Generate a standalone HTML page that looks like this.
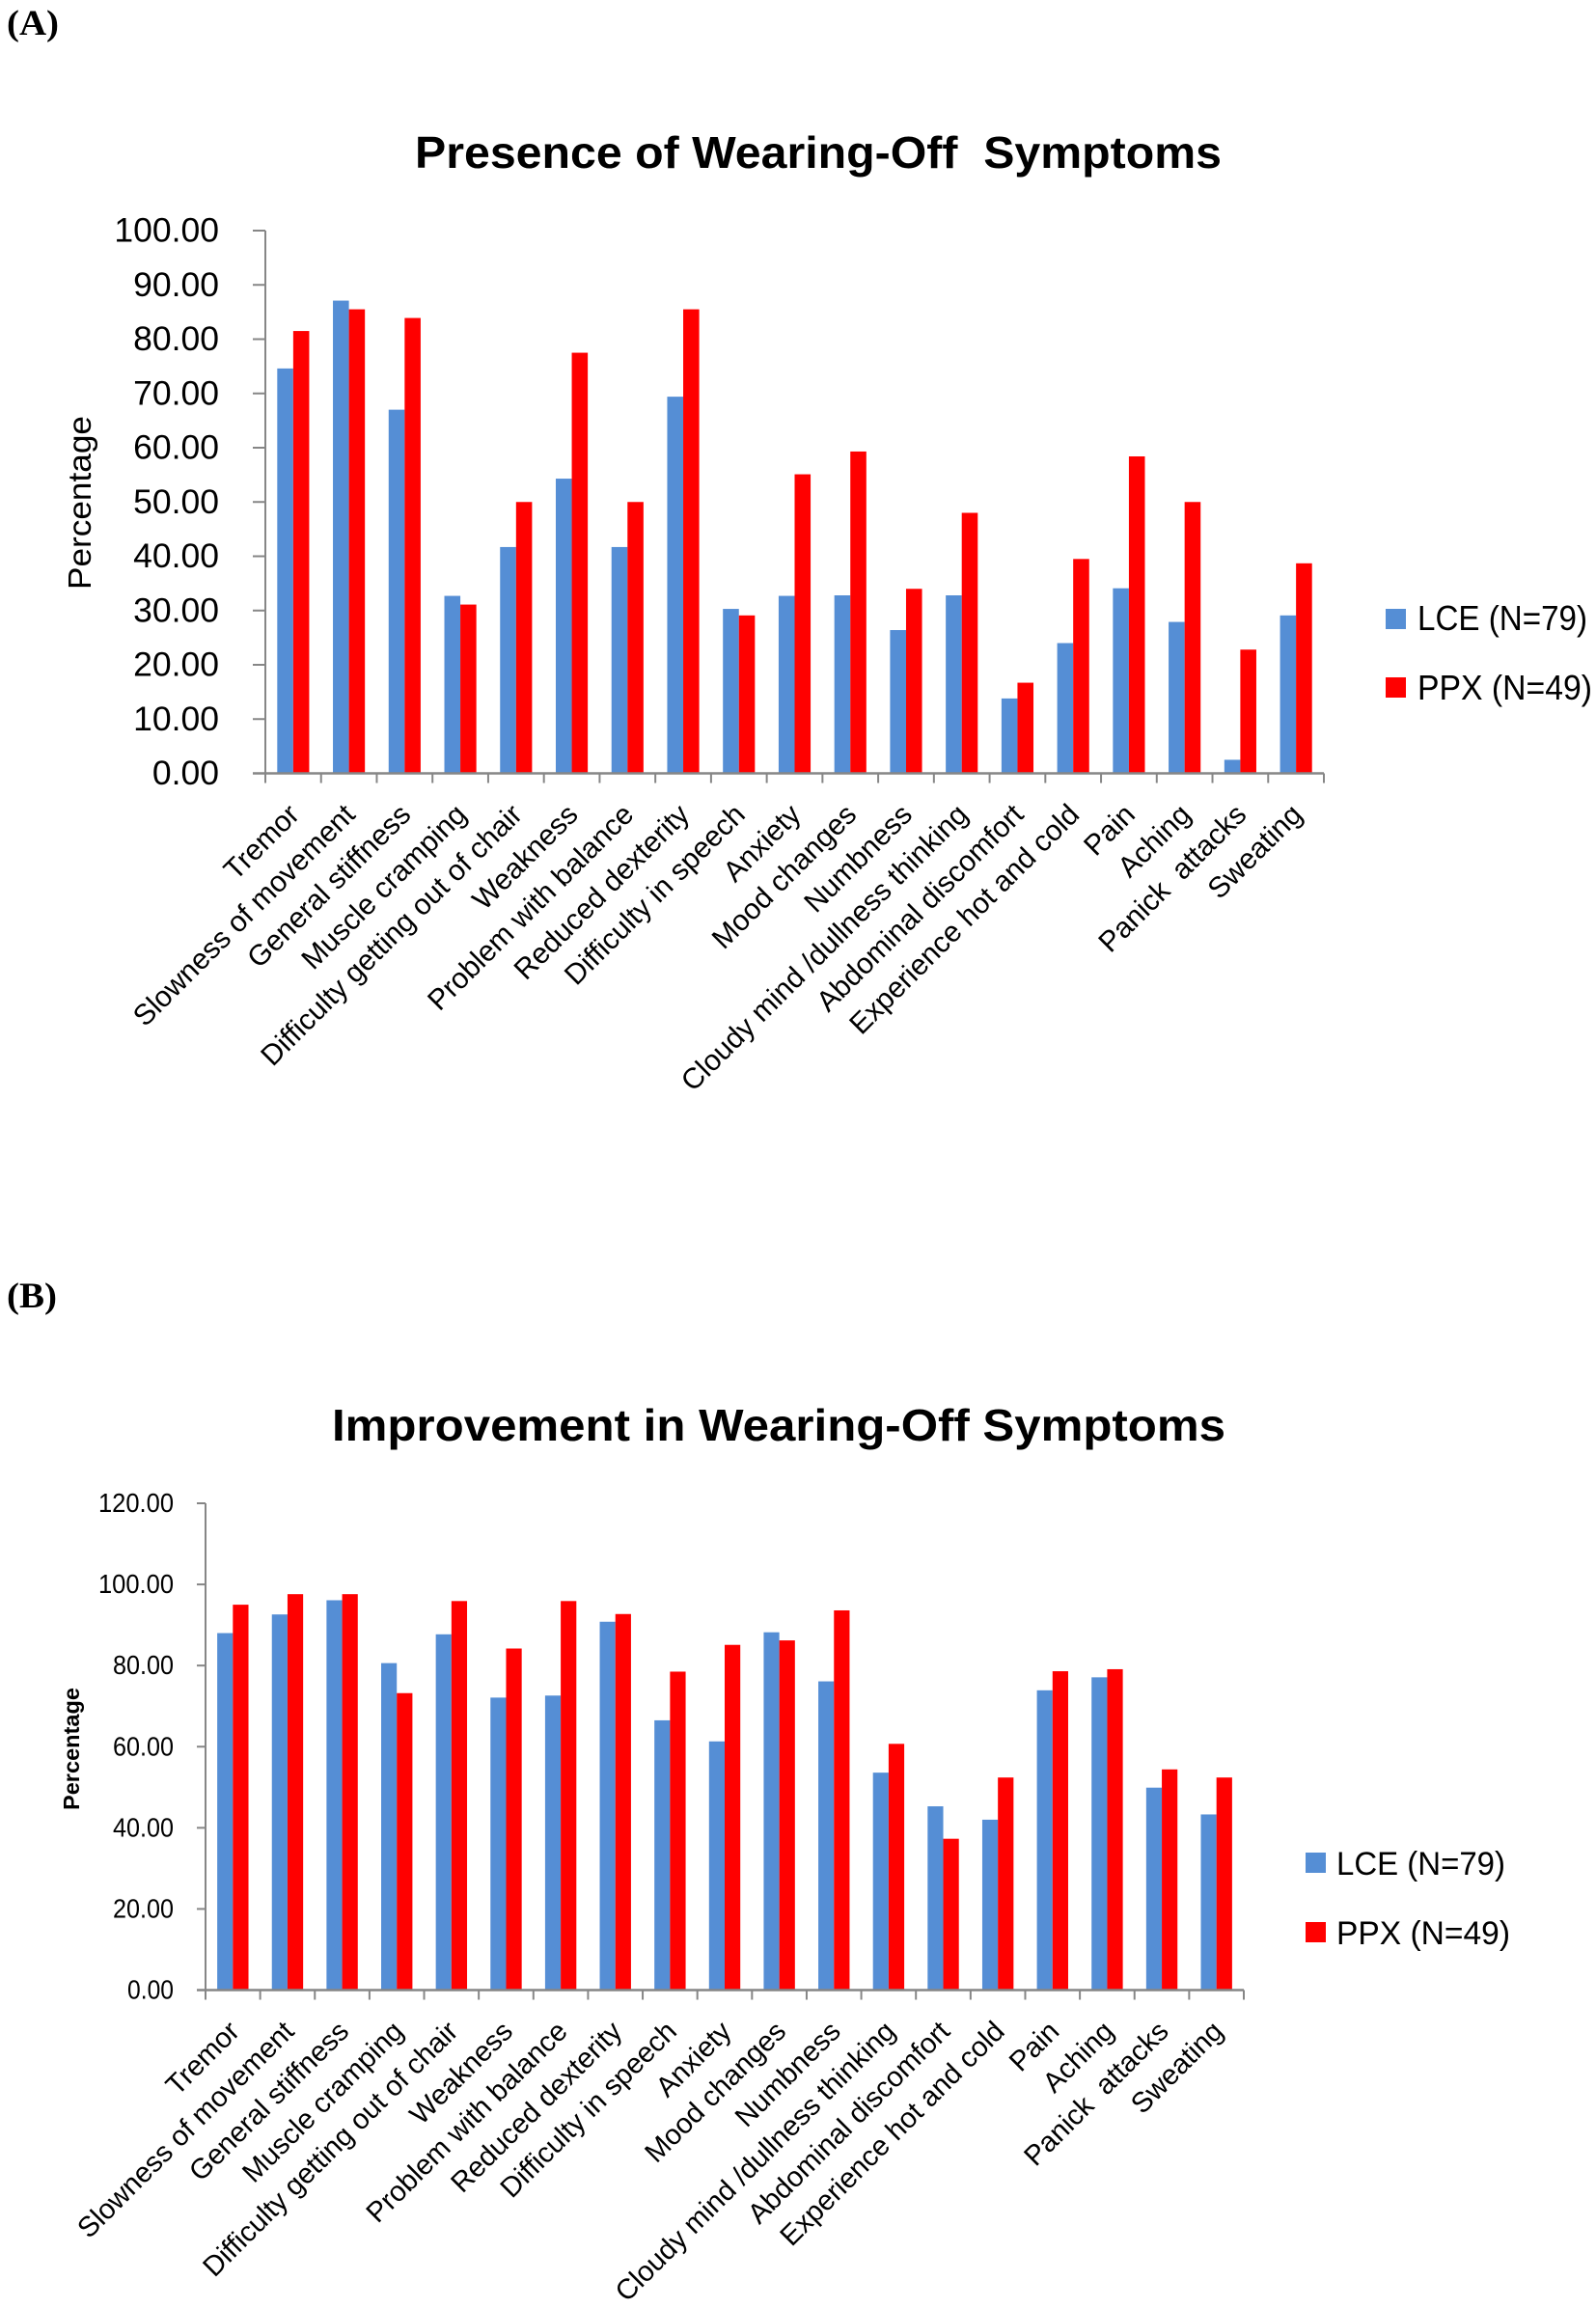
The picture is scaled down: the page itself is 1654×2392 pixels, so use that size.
<!DOCTYPE html>
<html lang="en">
<head>
<meta charset="utf-8">
<title>Wearing-Off Symptoms</title>
<style>
  html, body { margin: 0; padding: 0; background: #fff; }
  svg { display: block; }
  text { font-family: "Liberation Sans", sans-serif; fill: #000; }
  .panel-letter { font-family: "Liberation Serif", serif; font-weight: bold; font-size: 37px; }
  .title { font-weight: bold; font-size: 46px; }
</style>
</head>
<body>
<svg id="figure" xmlns="http://www.w3.org/2000/svg" width="1654" height="2392" viewBox="0 0 1654 2392">
  <rect x="0" y="0" width="1654" height="2392" fill="#ffffff"/>

  <text class="panel-letter" x="7" y="36" textLength="54" lengthAdjust="spacingAndGlyphs">(A)</text>
  <text class="title" x="430" y="174" textLength="836" lengthAdjust="spacingAndGlyphs" xml:space="preserve">Presence of Wearing-Off  Symptoms</text>
  <text transform="translate(94,611) rotate(-90)" font-size="33" textLength="180" lengthAdjust="spacingAndGlyphs">Percentage</text>
  <g id="chart-a"></g>
  <g>
    <g>
      <rect x="1436" y="631" width="21" height="21" fill="#558ed5"/>
      <text x="1469" y="653" font-size="36" textLength="176" lengthAdjust="spacingAndGlyphs">LCE (N=79)</text>
    </g>
    <g>
      <rect x="1436" y="702" width="21" height="21" fill="#ff0000"/>
      <text x="1469" y="725" font-size="36" textLength="181" lengthAdjust="spacingAndGlyphs">PPX (N=49)</text>
    </g>
  </g>

  <text class="panel-letter" x="7" y="1355" textLength="52" lengthAdjust="spacingAndGlyphs">(B)</text>
  <text class="title" x="344" y="1493" textLength="926" lengthAdjust="spacingAndGlyphs">Improvement in Wearing-Off Symptoms</text>
  <text transform="translate(82,1876) rotate(-90)" font-size="23.5" font-weight="bold" textLength="127" lengthAdjust="spacingAndGlyphs">Percentage</text>
  <g id="chart-b"></g>
  <g>
    <g>
      <rect x="1353" y="1920" width="21" height="21" fill="#558ed5"/>
      <text x="1385" y="1943" font-size="34" textLength="175" lengthAdjust="spacingAndGlyphs">LCE (N=79)</text>
    </g>
    <g>
      <rect x="1353" y="1992" width="21" height="21" fill="#ff0000"/>
      <text x="1385" y="2015" font-size="34" textLength="180" lengthAdjust="spacingAndGlyphs">PPX (N=49)</text>
    </g>
  </g>
</svg>

<script>
const categories = ["Tremor", "Slowness of movement", "General stiffness", "Muscle cramping", "Difficulty getting out of chair", "Weakness", "Problem with balance", "Reduced dexterity", "Difficulty in speech", "Anxiety", "Mood changes", "Numbness", "Cloudy mind /dullness thinking", "Abdominal discomfort", "Experience hot and cold", "Pain", "Aching", "Panick  attacks", "Sweating"];

const presenceLce = [74.6, 87.1, 67.0, 32.7, 41.7, 54.3, 41.7, 69.4, 30.3, 32.7, 32.8, 26.4, 32.8, 13.8, 24.0, 34.1, 27.9, 2.5, 29.1];
const presencePpx = [81.5, 85.5, 83.9, 31.1, 50.0, 77.5, 50.0, 85.5, 29.1, 55.1, 59.3, 34.0, 48.0, 16.7, 39.5, 58.4, 50.0, 22.8, 38.7];
const presenceTicks = ["0.00", "10.00", "20.00", "30.00", "40.00", "50.00", "60.00", "70.00", "80.00", "90.00", "100.00"];

const improvementLce = [88.0, 92.6, 96.1, 80.6, 87.7, 72.1, 72.6, 90.8, 66.5, 61.3, 88.2, 76.1, 53.6, 45.3, 42.0, 73.9, 77.1, 49.9, 43.3];
const improvementPpx = [95.0, 97.6, 97.6, 73.2, 95.9, 84.2, 95.9, 92.7, 78.5, 85.1, 86.2, 93.6, 60.7, 37.3, 52.4, 78.6, 79.1, 54.4, 52.4];
const improvementTicks = ["0.00", "20.00", "40.00", "60.00", "80.00", "100.00", "120.00"];

const SVG_NS = "http://www.w3.org/2000/svg";

function svgEl(tag, parent, attrs) {
  const el = document.createElementNS(SVG_NS, tag);
  for (const k in attrs) el.setAttribute(k, attrs[k]);
  parent.appendChild(el);
  return el;
}

function drawChart(rootId, geo, lce, ppx, ticks) {
  const root = document.getElementById(rootId);
  const maxV = parseFloat(ticks[ticks.length - 1]);
  const bandW = (geo.right - geo.left) / categories.length;
  const xBand = function (i) { return geo.left + bandW * i; };
  const yVal = function (v) { return geo.bottom - (v / maxV) * (geo.bottom - geo.top); };
  const barW = bandW * geo.barFrac;
  const axisColor = "#868686";

  categories.forEach(function (cat, i) {
    const x0 = xBand(i) + (bandW - 2 * barW) / 2;

    const b1 = svgEl("rect", root, { x: x0, y: yVal(lce[i]), width: barW, height: geo.bottom - yVal(lce[i]), fill: "#558ed5" });
    
    

    const b2 = svgEl("rect", root, { x: x0 + barW, y: yVal(ppx[i]), width: barW, height: geo.bottom - yVal(ppx[i]), fill: "#ff0000" });
    
    

    const cx = xBand(i) + bandW / 2 + geo.labelDx;
    const lab = svgEl("text", root, { transform: "translate(" + cx + "," + geo.labelY + ") rotate(-45)", "text-anchor": "end", "font-size": geo.labelSize });
    
    
    lab.style.whiteSpace = "pre";
    lab.textContent = cat;
  });

  ticks.forEach(function (t) {
    const y = yVal(parseFloat(t));
    const tm = svgEl("line", root, { x1: geo.left - geo.tickLen, x2: geo.left, y1: y, y2: y, stroke: axisColor, "stroke-width": 2 });
    
    

    const attrs = { x: geo.tickLabelX, y: y + geo.tickLabelDy, "text-anchor": "end", "font-size": geo.tickSize };
    if (geo.digitW) {
      attrs.textLength = geo.digitW * (t.length - 1) + geo.dotW;
      attrs.lengthAdjust = "spacingAndGlyphs";
    }
    const tl = svgEl("text", root, attrs);
    
    
    tl.textContent = t;
  });

  for (let i = 0; i <= categories.length; i++) {
    const tm = svgEl("line", root, { x1: xBand(i), x2: xBand(i), y1: geo.bottom, y2: geo.bottom + 10, stroke: axisColor, "stroke-width": 2 });
    
    
  }

  const ya = svgEl("line", root, { x1: geo.left, x2: geo.left, y1: geo.top, y2: geo.bottom + 1, stroke: axisColor, "stroke-width": 2 });
  
  

  const xa = svgEl("line", root, { x1: geo.left - geo.tickLen, x2: geo.right, y1: geo.bottom, y2: geo.bottom, stroke: axisColor, "stroke-width": 2.5 });
  
  
}

drawChart("chart-a",
  { left: 275, right: 1372, top: 239, bottom: 801.5, barFrac: 0.287, tickLen: 13, tickLabelX: 227, tickLabelDy: 11.5, tickSize: 35.5, labelSize: 30, labelDx: 8, labelY: 846 },
  presenceLce, presencePpx, presenceTicks);

drawChart("chart-b",
  { left: 213, right: 1289, top: 1558, bottom: 2062.5, barFrac: 0.286, tickLen: 9, tickLabelX: 180, tickLabelDy: 9, tickSize: 28, digitW: 15, dotW: 3, labelSize: 29.3, labelDx: 8.5, labelY: 2107 },
  improvementLce, improvementPpx, improvementTicks);
</script>
</body>
</html>
